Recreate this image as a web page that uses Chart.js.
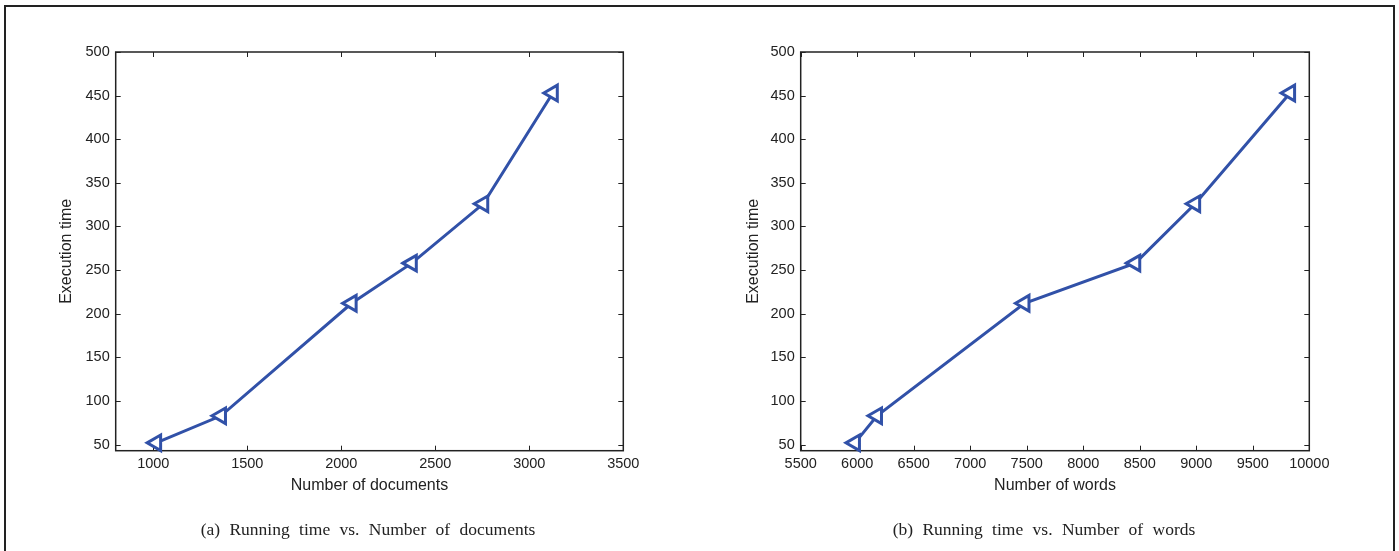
<!DOCTYPE html>
<html>
<head>
<meta charset="utf-8">
<script src="https://cdn.jsdelivr.net/npm/chart.js@4.4.0/dist/chart.umd.min.js"></script>
<style>
  body { margin: 0; background: #fff; width: 1399px; height: 551px; overflow: hidden; position: relative; }
  #frame { position: absolute; left: 4px; top: 5px; width: 1387px; height: 560px; border: 2px solid #222; border-bottom: none; }
  .box { position: absolute; top: 0; height: 551px; }
  .cap { position: absolute; top: 519px; font-family: "Liberation Serif", "Times New Roman", serif; font-size: 17.5px; color: #222; transform: translateX(-50%); white-space: nowrap; word-spacing: 5px; }
</style>
</head>
<body>
<div id="frame"></div>
<div class="box" style="left:0;width:690px"><canvas id="docChart" width="690" height="551"></canvas></div>
<div class="box" style="left:690px;width:709px"><canvas id="wordChart" width="709" height="551"></canvas></div>
<div class="cap" style="left:368px">(a) Running time vs. Number of documents</div>
<div class="cap" style="left:1044px">(b) Running time vs. Number of words</div>

<script>
  // ===== Data =====
  const docs = [1015, 1360, 2055, 2375, 2755, 3125];
  const words = [5980, 6175, 7480, 8460, 8990, 9830];
  const execTime = [52, 83, 212, 258, 326, 453];

  const docTicks = [1000, 1500, 2000, 2500, 3000, 3500];
  const wordTicks = [5500, 6000, 6500, 7000, 7500, 8000, 8500, 9000, 9500, 10000];
  const timeTicks = [50, 100, 150, 200, 250, 300, 350, 400, 450, 500];

  const lineColor = "#3151a8";
  const tickFont = { family: "'Liberation Sans', Arial, sans-serif", size: 14.5 };
  const titleFont = { family: "'Liberation Sans', Arial, sans-serif", size: 16 };

  // ===== Box + inner ticks like matlab =====
  const boxTicks = {
    id: "boxTicks",
    beforeDatasetsDraw(chart) {
      const { ctx, chartArea: a, scales } = chart;
      ctx.save();
      ctx.strokeStyle = "#222";
      ctx.lineWidth = 1.5;
      ctx.strokeRect(a.left, a.top, a.right - a.left, a.bottom - a.top);
      ctx.lineWidth = 1;
      ctx.beginPath();
      scales.x.ticks.forEach(t => {
        let p = Math.round(scales.x.getPixelForValue(t.value)) + 0.5;
        ctx.moveTo(p, a.bottom); ctx.lineTo(p, a.bottom - 5);
        ctx.moveTo(p, a.top); ctx.lineTo(p, a.top + 5);
      });
      scales.y.ticks.forEach(t => {
        let p = Math.round(scales.y.getPixelForValue(t.value)) + 0.5;
        ctx.moveTo(a.left, p); ctx.lineTo(a.left + 5, p);
        ctx.moveTo(a.right, p); ctx.lineTo(a.right - 5, p);
      });
      ctx.stroke();
      ctx.restore();
    }
  };

  function makeChart(id, xs, xMin, xMax, xTicks, xTitle, padRight, yWidth, yTitlePad) {
    const points = xs.map((x, i) => ({ x: x, y: execTime[i] }));
    return new Chart(document.getElementById(id), {
      type: "line",
      data: {
        datasets: [{
          data: points,
          borderColor: lineColor,
          borderWidth: 3,
          backgroundColor: "#fff",
          pointStyle: "triangle",
          rotation: -90,
          pointRadius: 9,
          pointHoverRadius: 9,
          pointBorderWidth: 3,
          pointBorderColor: lineColor,
          pointBackgroundColor: "#fff",
          tension: 0,
          clip: false
        }]
      },
      options: {
        responsive: false,
        animation: false,
        events: [],
        layout: { padding: { left: 0, top: 52, right: padRight, bottom: 55 } },
        plugins: { legend: { display: false }, tooltip: { enabled: false } },
        scales: {
          x: {
            type: "linear",
            min: xMin, max: xMax,
            afterBuildTicks: s => { s.ticks = xTicks.map(v => ({ value: v })); },
            afterFit: s => { s.height = 45.3; },
            grid: { display: false, drawTicks: false },
            border: { display: false },
            ticks: { font: tickFont, color: "#222", padding: 5, maxRotation: 0, autoSkip: false, callback: v => String(v) },
            title: { display: true, text: xTitle, font: titleFont, color: "#222", padding: { top: 0, bottom: 1 } }
          },
          y: {
            type: "linear",
            min: 43, max: 500,
            afterBuildTicks: s => { s.ticks = timeTicks.map(v => ({ value: v })); },
            afterFit: s => { s.width = yWidth; },
            grid: { display: false, drawTicks: false },
            border: { display: false },
            ticks: { font: tickFont, color: "#222", padding: 6, autoSkip: false, callback: v => String(v) },
            title: { display: true, text: "Execution time", font: titleFont, color: "#222", padding: { top: yTitlePad, bottom: 0 } }
          }
        }
      },
      plugins: [boxTicks]
    });
  }

  makeChart("docChart", docs, 800, 3500, docTicks, "Number of documents", 66.7, 115.7, 57);
  makeChart("wordChart", words, 5500, 10000, wordTicks, "Number of words", 89.7, 110.7, 53.5);
</script>
</body>
</html>
